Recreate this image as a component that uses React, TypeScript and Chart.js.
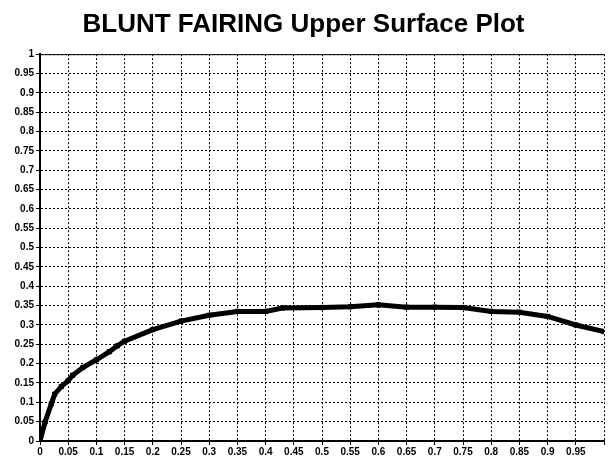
import React, { useEffect, useRef } from "react";
import { Chart, registerables } from "chart.js";

Chart.register(...registerables);

const titleText = "BLUNT FAIRING Upper Surface Plot";

const xValues = [0, 0.009, 0.02, 0.026, 0.038, 0.05, 0.058, 0.076, 0.1, 0.123, 0.137, 0.15, 0.2, 0.25, 0.3, 0.35, 0.4, 0.43, 0.5, 0.55, 0.6, 0.65, 0.7, 0.75, 0.8, 0.85, 0.9, 0.95, 1.0];
const yValues = [0, 0.049, 0.096, 0.121, 0.141, 0.156, 0.17, 0.19, 0.21, 0.231, 0.246, 0.258, 0.288, 0.31, 0.325, 0.335, 0.335, 0.344, 0.345, 0.347, 0.352, 0.346, 0.346, 0.345, 0.335, 0.333, 0.322, 0.3, 0.283];

const xTickStep = 0.05;
const yTickStep = 0.05;

const fmt = (v: number) => String(Number(v.toFixed(2)));

const topBorder = {
  id: "topBorder",
  afterDraw(chart: any) {
    const { ctx, chartArea } = chart;
    ctx.save();
    ctx.strokeStyle = "#000";
    ctx.lineWidth = 1;
    ctx.beginPath();
    ctx.moveTo(chartArea.left, chartArea.top + 0.5);
    ctx.lineTo(chartArea.right, chartArea.top + 0.5);
    ctx.stroke();
    ctx.restore();
  },
};

export default function App() {
  const ref = useRef<HTMLCanvasElement>(null);
  useEffect(() => {
    document.body.style.margin = "0";
    const data = xValues.map((x, i) => ({ x, y: yValues[i] }));
    const chart = new Chart(ref.current!, {
      type: "line",
      data: {
        datasets: [
          {
            data,
            borderColor: "#000",
            backgroundColor: "#000",
            borderWidth: 5,
            pointStyle: "rect",
            pointRadius: 3,
            pointBorderWidth: 1,
            tension: 0,
          },
        ],
      },
      plugins: [topBorder],
      options: {
        animation: false,
        responsive: false,
        maintainAspectRatio: false,
        layout: { padding: { left: 0, right: 2, top: 0, bottom: 0 } },
        plugins: {
          legend: { display: false },
          tooltip: { enabled: false },
          title: {
            display: true,
            text: titleText,
            color: "#000",
            font: { family: "Liberation Sans, Arial, sans-serif", size: 26, weight: "bold" },
            padding: { top: 9, bottom: 14 },
          },
        },
        scales: {
          x: {
            type: "linear",
            min: 0,
            max: 1,
            afterFit: (s: any) => { s.height = 18; },
            ticks: {
              stepSize: xTickStep,
              autoSkip: false,
              maxRotation: 0,
              minRotation: 0,
              color: "#000",
              padding: 1,
              font: { family: "Liberation Sans, Arial, sans-serif", size: 10, weight: "bold" },
              callback: (v: any) => (Number(v) >= 1 ? "" : fmt(Number(v))),
            },
            grid: {
              color: "#000",
              lineWidth: 1,
              tickLength: 4,
              tickColor: "#000",
            },
            border: { display: true, color: "#000", width: 2, dash: [2, 2] },
          },
          y: {
            type: "linear",
            min: 0,
            max: 1,
            afterFit: (s: any) => { s.width = 40; },
            ticks: {
              stepSize: yTickStep,
              autoSkip: false,
              color: "#000",
              padding: 2,
              font: { family: "Liberation Sans, Arial, sans-serif", size: 10, weight: "bold" },
              callback: (v: any) => fmt(Number(v)),
            },
            grid: {
              color: "#000",
              lineWidth: 1,
              tickLength: 4,
              tickColor: "#000",
            },
            border: { display: true, color: "#000", width: 2, dash: [2, 2] },
          },
        },
      },
    });
    return () => chart.destroy();
  }, []);
  return (
    <div style={{ width: 609, height: 459 }}>
      <canvas ref={ref} width={609} height={459} style={{ display: "block" }} />
    </div>
  );
}
